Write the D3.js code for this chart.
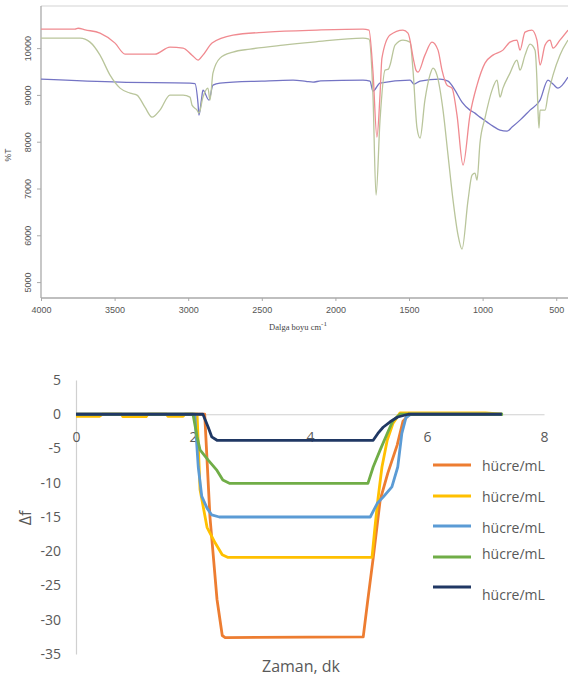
<!DOCTYPE html>
<html>
<head>
<meta charset="utf-8">
<script src="https://cdn.jsdelivr.net/npm/d3@7"></script>
<style>
  body { margin: 0; background: #fff; }
  svg { display: block; }
</style>
</head>
<body>
<div id="root"></div>
<script>
// FTIR spectra: [wavenumber cm-1, %T]
const redSpectrum = [
  [4000,10406],[3769,10406],[3748,10425],[3700,10390],[3599,10321],[3497,10107],[3429,9872],
  [3226,9872],[3124,10021],[3035,10000],[2974,9850],[2933,9744],[2900,9850],[2838,10107],
  [2696,10278],[2465,10342],[2125,10385],[1813,10406],[1772,10385],[1745,9500],[1718,8098],
  [1697,9000],[1684,9786],[1629,10278],[1541,10385],[1507,10321],[1466,9700],[1453,9530],
  [1439,9487],[1392,9850],[1344,10128],[1303,9957],[1276,9530],[1242,9209],[1208,9145],
  [1174,8568],[1133,7500],[1086,8568],[1038,9209],[984,9679],[930,9850],[862,9957],
  [814,10128],[767,10171],[746,9957],[712,10342],[665,10385],[631,10171],[610,9637],
  [576,10064],[542,10171],[522,10000],[475,10171],[420,10385]
];
const greenSpectrum = [
  [4000,10214],[3735,10214],[3667,10128],[3599,9850],[3531,9423],[3463,9145],[3395,9038],
  [3348,8996],[3294,8739],[3246,8525],[3192,8675],[3124,8996],[3035,8996],[2988,8953],
  [2974,8782],[2940,8675],[2927,8610],[2900,8950],[2866,9145],[2852,8889],[2832,9466],
  [2784,9786],[2696,9915],[2580,9979],[2356,10064],[2152,10128],[1813,10214],[1772,10192],
  [1745,9000],[1724,6859],[1697,8461],[1663,9530],[1640,9550],[1629,9637],[1595,10064],
  [1541,10171],[1493,10128],[1473,9530],[1446,8300],[1425,8077],[1392,8889],[1358,9423],
  [1337,9573],[1310,9423],[1269,8675],[1235,7713],[1201,6752],[1167,6004],[1140,5705],
  [1099,6752],[1072,7286],[1052,7329],[1038,7179],[1018,7970],[984,8504],[936,9102],
  [902,9316],[882,8953],[862,9145],[814,9466],[767,9744],[746,9530],[712,9850],[678,10085],
  [644,9957],[631,9316],[624,8675],[617,8290],[610,8675],[576,8675],[556,8996],[522,9423],
  [475,9850],[420,10171]
];
const blueSpectrum = [
  [4000,9338],[3463,9273],[2988,9252],[2954,9240],[2933,8800],[2927,8568],[2910,8900],
  [2900,9102],[2859,8889],[2832,9209],[2784,9252],[2500,9295],[2288,9316],[2200,9290],
  [2152,9273],[2100,9300],[1813,9316],[1765,9295],[1745,9081],[1697,9252],[1493,9316],
  [1466,9231],[1425,9295],[1290,9338],[1235,9295],[1188,9102],[1140,8846],[1086,8675],
  [1052,8611],[1018,8525],[970,8419],[930,8333],[882,8248],[834,8226],[800,8312],
  [746,8461],[678,8675],[610,8889],[556,9316],[522,9231],[488,9145],[420,9380]
];
const wnTicks = [4000, 3500, 3000, 2500, 2000, 1500, 1000, 500];
const tTicks = [5000, 6000, 7000, 8000, 9000, 10000];

// frequency shift: [time dk, delta f]
const orangeSeries = [
  [0,0],[2.2,0],[2.29,-15],[2.41,-27],[2.5,-32.3],[2.55,-32.6],[4.91,-32.5],[4.99,-27],
  [5.08,-21],[5.2,-12.5],[5.33,-8.6],[5.49,-4.5],[5.59,-1],[5.7,0],[7.28,0]
];
const yellowSeries = [
  [0,-0.3],[0.4,-0.3],[0.45,0],[0.78,0],[0.8,-0.35],[1.2,-0.35],[1.23,0],[1.55,0],
  [1.57,-0.3],[1.83,-0.3],[1.86,0],[2.07,0],[2.12,-11],[2.24,-16.5],[2.38,-18.8],
  [2.5,-20.5],[2.6,-20.9],[5.06,-20.9],[5.11,-16.5],[5.16,-12.5],[5.23,-7.7],[5.32,-3.8],
  [5.42,-1.3],[5.54,0.2],[7.0,0.2],[7.28,0]
];
const blueSeries = [
  [0,0],[2.03,0],[2.09,-7.7],[2.15,-12],[2.24,-13.7],[2.32,-14.7],[2.45,-15],[5.03,-15],
  [5.15,-13],[5.25,-12.1],[5.4,-10.6],[5.5,-7.7],[5.57,-2.8],[5.64,-0.5],[5.72,0],[7.28,0]
];
const greenSeries = [
  [0,0],[2.0,0],[2.07,-3.3],[2.12,-5.2],[2.26,-6.7],[2.41,-8.2],[2.51,-9.6],[2.63,-10.1],
  [4.99,-10.1],[5.08,-7.7],[5.2,-5.2],[5.32,-2.8],[5.42,-0.9],[5.54,0],[7.3,0]
];
const navySeries = [
  [0,0],[2.17,0],[2.26,-1.9],[2.32,-3.3],[2.41,-3.8],[5.08,-3.8],[5.16,-2.8],[5.25,-1.9],
  [5.37,-1.1],[5.5,-0.4],[5.68,0],[7.28,0]
];
const seriesNames = ["hücre/mL", "hücre/mL", "hücre/mL", "hücre/mL", "hücre/mL"];
const timeTicks = [0, 2, 4, 6, 8];
const shiftTicks = [5, 0, -5, -10, -15, -20, -25, -30, -35];

const W = 568, H = 679;
const svg = d3.select("#root").append("svg").attr("width", W).attr("height", H);
const plain = d => String(d);

// ---------- top: FTIR ----------
const x1 = d3.scaleLinear().domain([4000, 420]).range([41, 568]);
const y1 = d3.scaleLinear().domain([4660, 10900]).range([298, 6]);

const gTop = svg.append("g");

gTop.append("line")
  .attr("x1", 41).attr("x2", 568).attr("y1", 6).attr("y2", 6)
  .attr("stroke", "#d4d4d4").attr("stroke-width", 1.2);

const xAx1 = gTop.append("g")
  .attr("transform", "translate(0,298)")
  .call(d3.axisBottom(x1).tickValues(wnTicks).tickSize(3).tickPadding(6).tickFormat(plain));
const yAx1 = gTop.append("g")
  .attr("transform", "translate(41,0)")
  .call(d3.axisLeft(y1).tickValues(tTicks).tickSize(4).tickFormat(plain));

[xAx1, yAx1].forEach(a => {
  a.select(".domain").attr("stroke", "#aaa").attr("stroke-width", 1.3);
  a.selectAll(".tick line").attr("stroke", "#aaa");
  a.selectAll("text").attr("fill", "#555").style("font-family", "Liberation Sans, Arial, sans-serif")
    .style("font-size", "9px");
});
xAx1.select(".domain").attr("d", "M41,0H568");
yAx1.select(".domain").attr("d", "M0,6V298");
yAx1.selectAll(".tick text")
  .attr("x", null).attr("dy", null)
  .attr("text-anchor", "middle")
  .attr("transform", "translate(-13,0) rotate(-90)")
  .attr("y", 0).attr("dy", "0.35em");

gTop.append("text")
  .attr("transform", "translate(11,155) rotate(-90)")
  .attr("text-anchor", "middle")
  .attr("fill", "#555")
  .style("font-family", "Liberation Sans, Arial, sans-serif").style("font-size", "8.5px")
  .text("%T");

const xt = gTop.append("text")
  .attr("x", 298).attr("y", 330)
  .attr("text-anchor", "middle")
  .attr("fill", "#444")
  .style("font-family", "Liberation Serif, Times New Roman, serif").style("font-size", "8.5px");
xt.append("tspan").text("Dalga boyu cm");
xt.append("tspan").attr("dy", -4).style("font-size", "7px").text("-1");

const line1 = d3.line().x(d => x1(d[0])).y(d => y1(d[1])).curve(d3.curveMonotoneX);
const spectra = [
  { data: blueSpectrum, color: "#7474c4" },
  { data: greenSpectrum, color: "#b9c59b" },
  { data: redSpectrum, color: "#f08a90" }
];
spectra.forEach(s => {
  gTop.append("path")
    .datum(s.data.slice().reverse())
    .attr("d", line1)
    .attr("fill", "none")
    .attr("stroke", s.color)
    .attr("stroke-width", 1.3);
});

// ---------- bottom: frequency shift ----------
const x2 = d3.scaleLinear().domain([0, 8]).range([76, 544]);
const y2 = d3.scaleLinear().domain([5, -35]).range([380, 654]);
const gBot = svg.append("g");
const font2 = "Open Sans, Noto Sans, sans-serif";

const yAx2 = gBot.append("g")
  .attr("transform", "translate(76,0)")
  .call(d3.axisLeft(y2).tickValues(shiftTicks).tickSize(0).tickPadding(15).tickFormat(plain));
yAx2.select(".domain").attr("stroke", "#d0d0d0").attr("stroke-width", 1.2);

const xAx2 = gBot.append("g")
  .attr("transform", "translate(0," + y2(0) + ")")
  .call(d3.axisBottom(x2).tickValues(timeTicks).tickSize(0).tickPadding(18).tickFormat(plain));
xAx2.select(".domain").attr("stroke", "#d0d0d0").attr("stroke-width", 1.2);

[xAx2, yAx2].forEach(a => {
  a.selectAll("text").attr("fill", "#595959").style("font-family", font2).style("font-size", "14px");
});

gBot.append("text")
  .attr("transform", "translate(31,518) rotate(-90)")
  .attr("text-anchor", "middle")
  .attr("fill", "#595959")
  .style("font-family", font2).style("font-size", "16px")
  .text("Δf");

gBot.append("text")
  .attr("x", 301).attr("y", 672)
  .attr("text-anchor", "middle")
  .attr("fill", "#595959")
  .style("font-family", font2).style("font-size", "16px")
  .text("Zaman, dk");

const line2 = d3.line().x(d => x2(d[0])).y(d => y2(d[1]));
const series = [
  { data: orangeSeries, color: "#ED7D31" },
  { data: yellowSeries, color: "#FFC000" },
  { data: blueSeries, color: "#5B9BD5" },
  { data: greenSeries, color: "#70AD47" },
  { data: navySeries, color: "#203864" }
];
series.forEach(s => {
  gBot.append("path")
    .datum(s.data)
    .attr("d", line2)
    .attr("fill", "none")
    .attr("stroke", s.color)
    .attr("stroke-width", 2.8)
    .attr("stroke-linejoin", "round");
});

// legend
const legLineY = [465, 496, 526, 557, 587];
const legTextY = [466, 497, 528, 554, 595];
const leg = gBot.append("g");
series.forEach((s, i) => {
  leg.append("line")
    .attr("x1", 433).attr("x2", 471)
    .attr("y1", legLineY[i]).attr("y2", legLineY[i])
    .attr("stroke", s.color).attr("stroke-width", 3);
  leg.append("text")
    .attr("x", 482).attr("y", legTextY[i]).attr("dy", "0.35em")
    .attr("fill", "#595959")
    .style("font-family", font2).style("font-size", "14px")
    .text(seriesNames[i]);
});
</script>
</body>
</html>
